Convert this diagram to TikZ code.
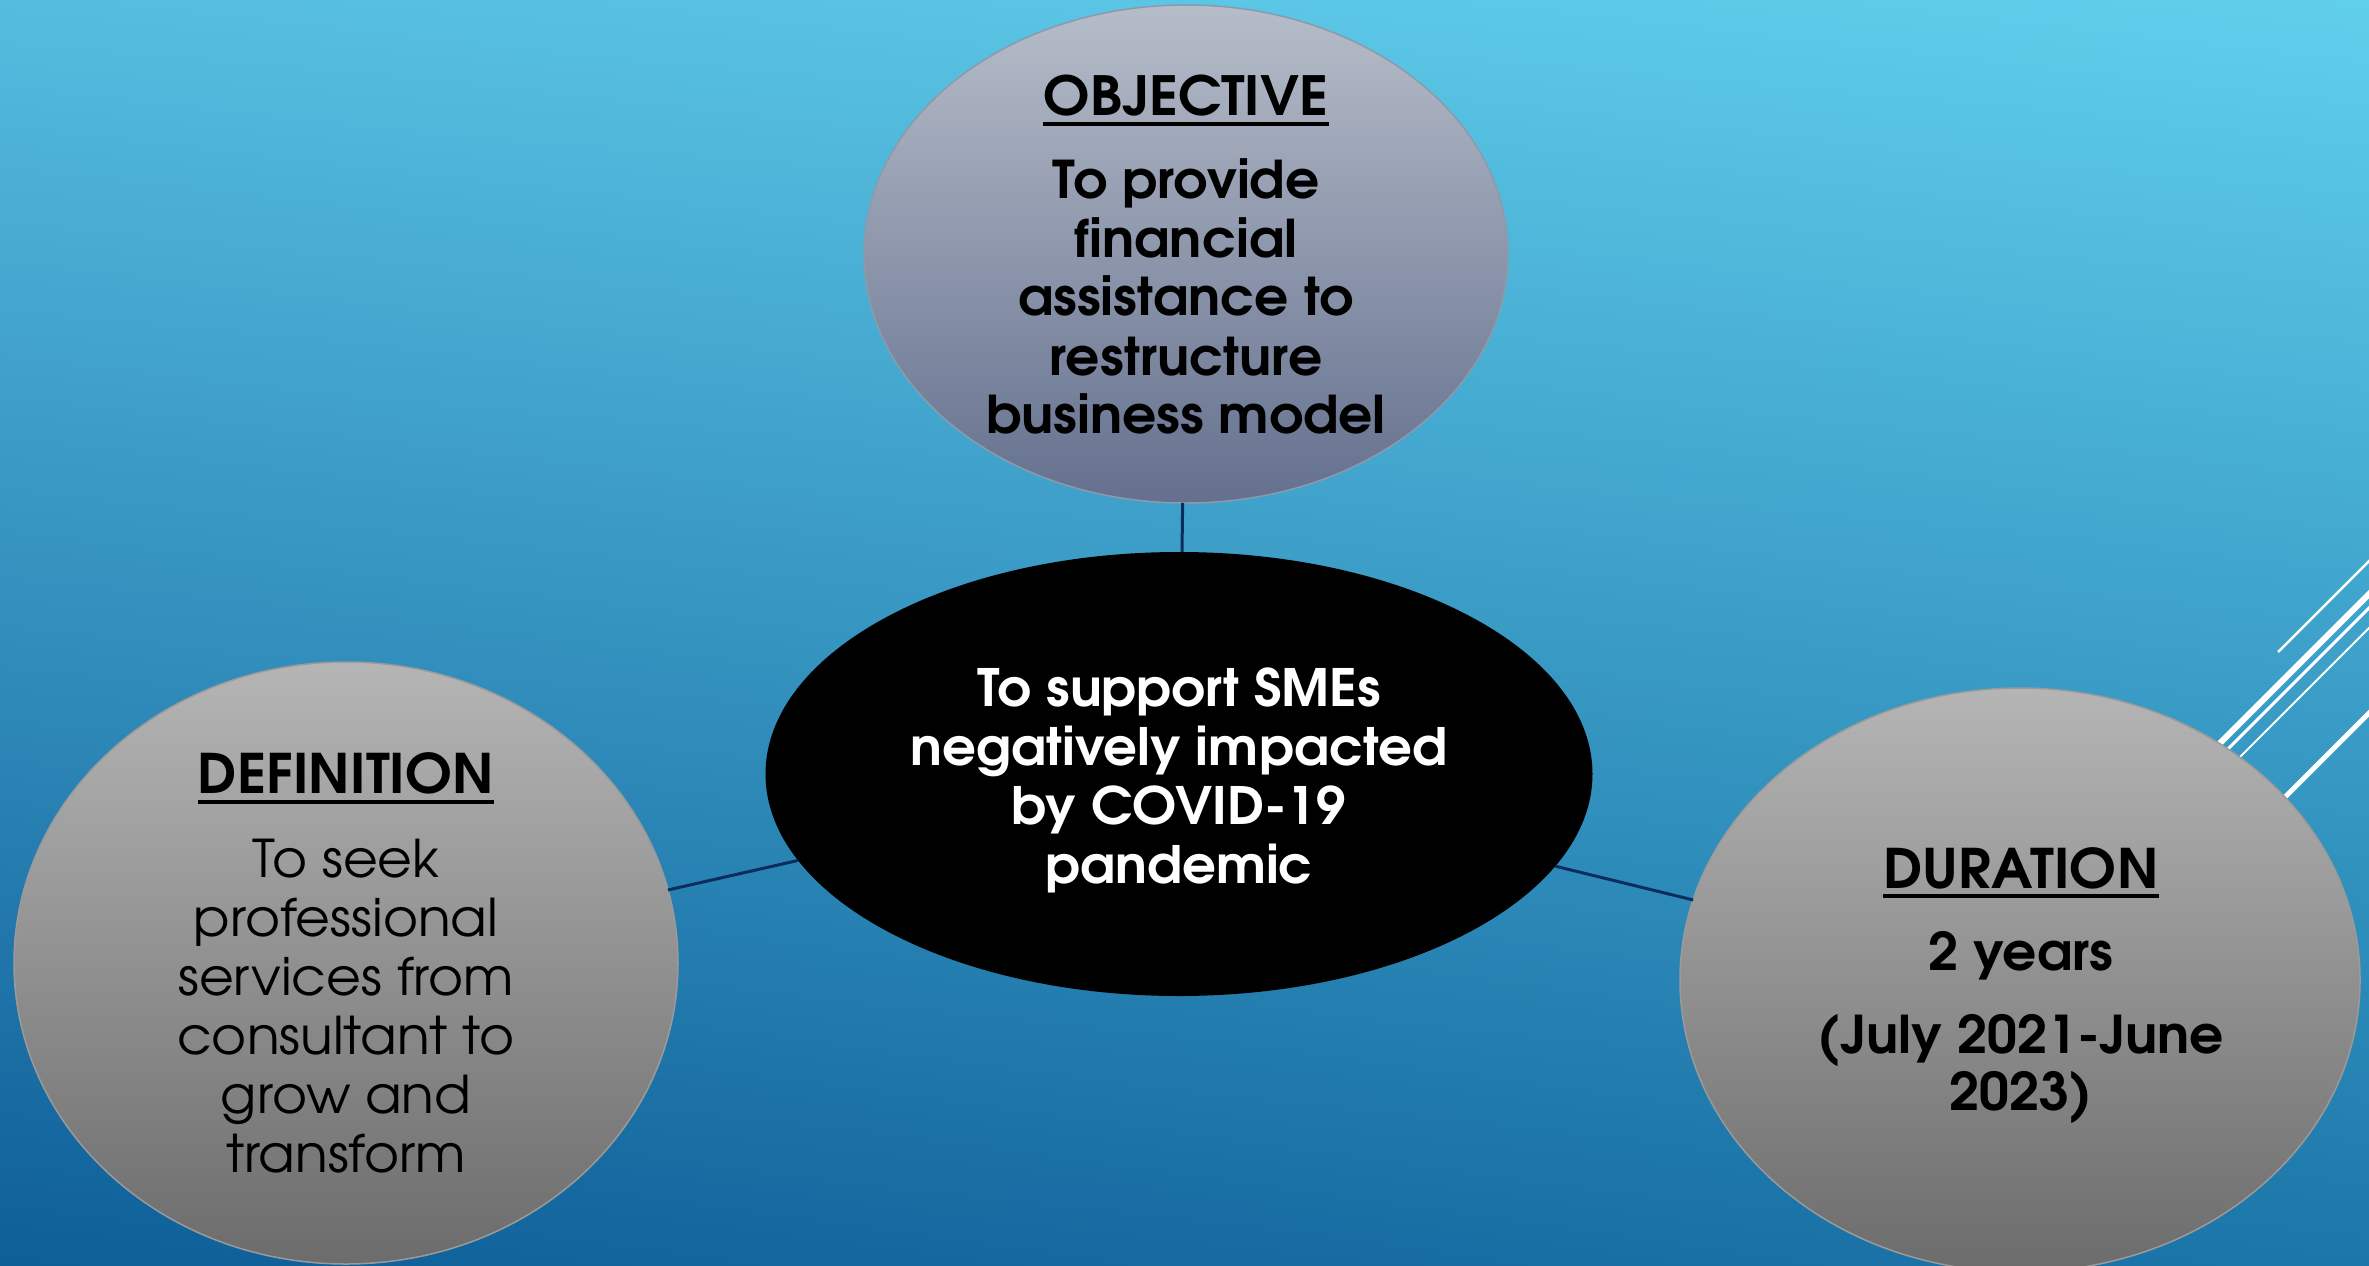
\documentclass[tikz,border=0pt]{standalone}
\usepackage{fontspec}
\setmainfont{texgyreadventor}[Extension=.otf, UprightFont=*-regular, BoldFont=*-bold, ItalicFont=*-italic, BoldItalicFont=*-bolditalic, FakeStretch=1.03]
\usetikzlibrary{shapes.geometric,shadings}
\definecolor{bgUL}{HTML}{55BCDF}
\definecolor{bgUR}{HTML}{60CFEC}
\definecolor{bgLL}{HTML}{0E5E98}
\definecolor{bgLR}{HTML}{1C76A9}
\definecolor{objTop}{HTML}{B6BDC9}
\definecolor{objBot}{HTML}{64708E}
\definecolor{objEdge}{HTML}{8C9AAC}
\definecolor{greyTop}{HTML}{B5B5B5}
\definecolor{greyBot}{HTML}{6C6C6C}
\definecolor{greyEdge}{HTML}{9A9A9A}
\definecolor{connBlue}{HTML}{0B2D5E}
\tikzset{
  bubble/.style={ellipse, inner sep=0pt, outer sep=0pt, line width=1.5pt},
  conn/.style={draw=connBlue, line width=3pt},
  deco/.style={draw=white, line cap=butt},
  headtxt/.style={anchor=base, inner sep=0pt, font=\fontsize{#1}{#1}\selectfont\bfseries},
  boldtxt/.style={anchor=base, inner sep=0pt, font=\fontsize{#1}{#1}\selectfont\bfseries},
  plaintxt/.style={anchor=base, inner sep=0pt, font=\fontsize{#1}{#1}\selectfont},
  uline/.style={draw=black, line width=4pt}
}
\begin{document}
\begin{tikzpicture}[x=1pt,y=-1pt]
\useasboundingbox (0,0) rectangle (2369,1266);
% background
\shade[upper left=bgUL, upper right=bgUR, lower left=bgLL, lower right=bgLR] (0,0) rectangle (2369,1266);
% decorative lines
\begin{scope}
\clip (0,0) rectangle (2369,1266);
\draw[deco, line width=2.5pt] (2278,652) -- (2390,540);
\draw[deco, line width=6pt] (2150,813) -- (2390,573);
\draw[deco, line width=3pt] (2150,827) -- (2390,587);
\draw[deco, line width=2pt] (2150,847) -- (2390,607);
\draw[deco, line width=5pt] (2200,882) -- (2390,692);
\end{scope}
% ellipses
\node[bubble, minimum width=644pt, minimum height=498pt, draw=objEdge, top color=objTop, bottom color=objBot] (obj) at (1186,254) {};
\node[bubble, minimum width=827pt, minimum height=444pt, fill=black] (mid) at (1179,774) {};
\node[bubble, minimum width=664pt, minimum height=602pt, draw=greyEdge, top color=greyTop, bottom color=greyBot] (def) at (346,963) {};
\node[bubble, minimum width=680pt, minimum height=584pt, draw=greyEdge, top color=greyTop, bottom color=greyBot] (dur) at (2020,980) {};
% connectors
\draw[conn] (obj) -- (mid);
\draw[conn] (mid) -- (def);
\draw[conn] (mid) -- (dur);
% objective text
\node[headtxt=54] (oh) at (1186,115) {OBJECTIVE};
\draw[uline] ([yshift=-9pt]oh.base west) -- ([yshift=-9pt]oh.base east);
\node[boldtxt=52] (o1) at (1186,198) {To provide};
\node[boldtxt=52] (o2) at (1186,257) {financial};
\node[boldtxt=52] (o3) at (1186,315) {assistance to};
\node[boldtxt=52] (o4) at (1186,375) {restructure};
\node[boldtxt=52] (o5) at (1186,433) {business model};
% central text
\node[boldtxt=51.5, text=white] (c1) at (1179,706) {To support SMEs};
\node[boldtxt=51.5, text=white] (c2) at (1179,765) {negatively impacted};
\node[boldtxt=51.5, text=white] (c3) at (1179,824) {by COVID-19};
\node[boldtxt=51.5, text=white] (c4) at (1179,883) {pandemic};
% definition text
\node[headtxt=54.5] (dh) at (346,793) {DEFINITION};
\draw[uline] ([yshift=-9pt]dh.base west) -- ([yshift=-9pt]dh.base east);
\node[plaintxt=52] (d1) at (346,877) {To seek};
\node[plaintxt=52] (d2) at (346,936) {professional};
\node[plaintxt=52] (d3) at (346,995) {services from};
\node[plaintxt=52] (d4) at (346,1054) {consultant to};
\node[plaintxt=52] (d5) at (346,1113) {grow and};
\node[plaintxt=52] (d6) at (346,1172) {transform};
% duration text
\node[headtxt=54.5] (uh) at (2021,888) {DURATION};
\draw[uline] ([yshift=-8pt]uh.base west) -- ([yshift=-8pt]uh.base east);
\node[boldtxt=52] (u1) at (2021,970) {2 years};
\node[boldtxt=52] (u2) at (2021,1053) {(July 2021-June};
\node[boldtxt=52] (u3) at (2021,1110) {2023)};
\end{tikzpicture}
\end{document}
